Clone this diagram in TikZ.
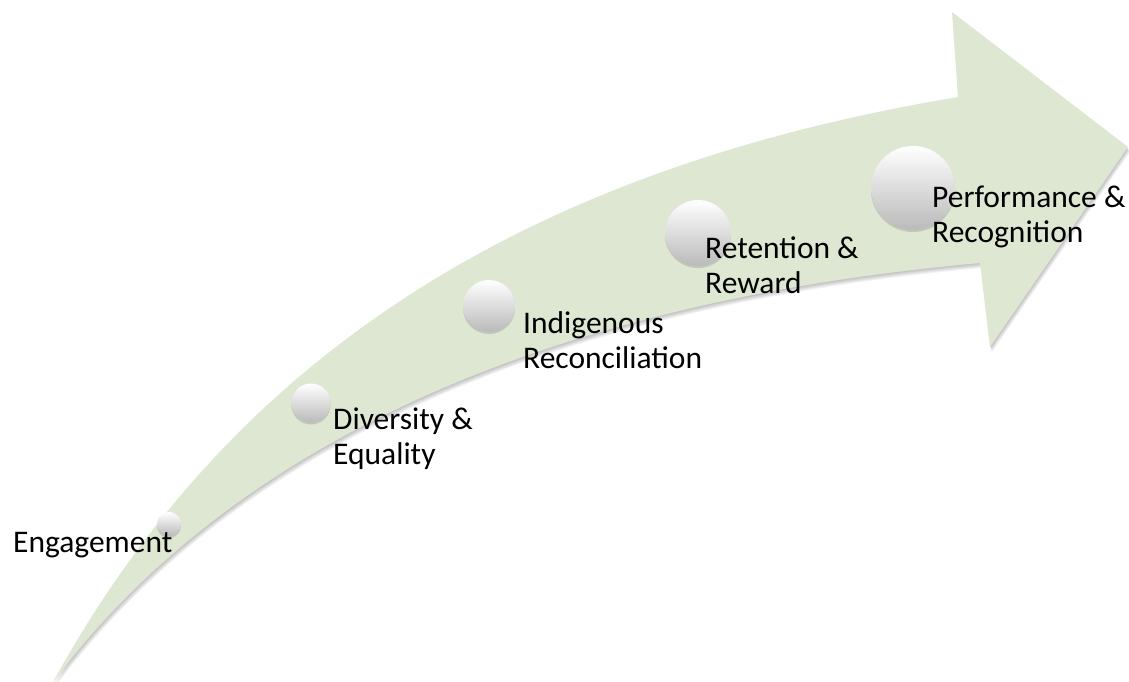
\documentclass[tikz,border=0pt]{standalone}
\usepackage{fontspec}
\setmainfont{Carlito}
\usetikzlibrary{shadows}
\definecolor{sage}{RGB}{222,231,209}

\newcommand\swoosh{(53,682) .. controls (230,360) and (520,170) .. (958,97)
  -- (952,12) -- (1128,147) -- (990,347) -- (980,263)
  .. controls (680,290) and (280,380) .. (53,682) -- cycle}

\begin{document}
\begin{tikzpicture}
        [%%%%%%%%%%%%%%%%%%%%%%%%%%%%%%
        x=1pt,y=-1pt,
        ball/.style={circle,inner sep=0pt,top color=white,bottom color=black!27,
          drop shadow={opacity=.3,shadow xshift=0pt,shadow yshift=-2pt}},
        step label/.style={anchor=base west,align=left,inner sep=0pt,
          font=\fontsize{31.5}{34.5}\selectfont},
        ]%%%%%%%%%%%%%%%%%%%%%%%%%%%%%%

        \useasboundingbox (0,0) rectangle (1129,682);

        % soft shadow under the arrow
        \foreach \s in {1,...,5}{
          \fill[black,opacity=.05,shift={(0.4*\s,\s)}] \swoosh;
        }
        \fill[sage] \swoosh;

        % the five steps
        \foreach \n/\x/\y/\d in {1/169/524/24, 2/311/403/39, 3/489/306/52,
                                 4/698/233/66, 5/913/188/84}
          \node[ball,minimum size=\d pt] (b\n) at (\x,\y){};

        % labels, placed at the baseline of their last line
        \node[step label] (engage) at (13,552){Engagement};
        \node[step label] (divers) at (333,464){Diversity \&\\Equality};
        \node[step label] (indig) at (523,368){Indigenous\\Reconciliation};
        \node[step label] (retain) at (705,293){Retention \&\\Reward};
        \node[step label] (perform) at (932,242){Performance \&\\Recognition};

      \end{tikzpicture}
\end{document}
